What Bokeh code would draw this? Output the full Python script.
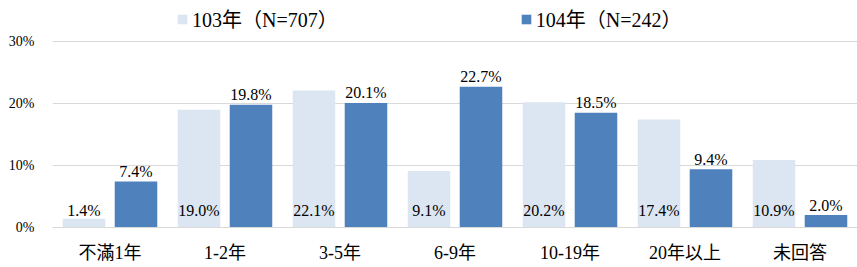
from bokeh.plotting import figure
from bokeh.models import (ColumnDataSource, FactorRange, FixedTicker, NumeralTickFormatter,
                          Legend, LegendItem)
from bokeh.transform import dodge
from bokeh.core.properties import value
from bokeh.embed import file_html
from bokeh.resources import INLINE

categories = ["不滿1年", "1-2年", "3-5年", "6-9年", "10-19年", "20年以上", "未回答"]
series_103 = [1.4, 19.0, 22.1, 9.1, 20.2, 17.4, 10.9]
series_104 = [7.4, 19.8, 20.1, 22.7, 18.5, 9.4, 2.0]
legend_103 = "103年（N=707）"
legend_104 = "104年（N=242）"
y_ticks = [0, 10, 20, 30]

FONT = "Liberation Serif"
CJK_FONT = "Liberation Serif, Noto Sans CJK TC"
LIGHT = "#DCE6F2"
DARK = "#4F81BD"
GRID = "#D9D9D9"

src = ColumnDataSource(dict(
    cat=categories,
    v103=[v / 100 for v in series_103],
    v104=[v / 100 for v in series_104],
    zero=[0] * len(categories),
    l103=[f"{v:.1f}%" for v in series_103],
    l104=[f"{v:.1f}%" for v in series_104],
))

# top of frame leaves room for the legend: 30% gridline sits 41px below the top
PX_PER_UNIT = 620.0
FRAME_H = 227
p = figure(x_range=FactorRange(*categories), y_range=(0, FRAME_H / PX_PER_UNIT),
           width=857, height=267, output_backend="svg", toolbar_location=None,
           min_border_left=52, min_border_right=0, min_border_bottom=40, min_border_top=0)
p.x_range.range_padding = 0
p.outline_line_color = None
p.background_fill_color = "white"

r103 = p.vbar(x=dodge("cat", -0.226, range=p.x_range), top="v103", width=0.37,
              source=src, fill_color=LIGHT, line_color=None)
r104 = p.vbar(x=dodge("cat", 0.226, range=p.x_range), top="v104", width=0.37,
              source=src, fill_color=DARK, line_color=None)

p.text(x=dodge("cat", -0.226, range=p.x_range), y="zero", text="l103", source=src,
       text_align="center", text_baseline="middle", y_offset=-17,
       text_font=value(FONT), text_font_size="16px", text_color="#000000")
p.text(x=dodge("cat", 0.226, range=p.x_range), y="v104", text="l104", source=src,
       text_align="center", text_baseline="middle", y_offset=-10,
       text_font=value(FONT), text_font_size="16px", text_color="#000000")

p.yaxis.ticker = FixedTicker(ticks=[t / 100 for t in y_ticks])
p.yaxis.formatter = NumeralTickFormatter(format="0%")
p.yaxis.axis_line_color = None
p.yaxis.major_tick_line_color = None
p.yaxis.minor_tick_line_color = None
p.yaxis.major_label_text_font = FONT
p.yaxis.major_label_text_font_size = "14px"
p.yaxis.major_label_text_color = "#000000"
p.yaxis.major_label_standoff = 12

p.xaxis.axis_line_color = GRID
p.xaxis.major_tick_line_color = None
p.xaxis.minor_tick_line_color = None
p.xaxis.major_label_text_font = CJK_FONT
p.xaxis.major_label_text_font_size = "18px"
p.xaxis.major_label_text_color = "#000000"
p.xaxis.major_label_standoff = 9

p.xgrid.grid_line_color = None
p.ygrid.grid_line_color = GRID
p.ygrid.grid_line_width = 1

legend = Legend(items=[LegendItem(label=legend_103, renderers=[r103]),
                       LegendItem(label=legend_104, renderers=[r104])],
                orientation="horizontal", location=(124, 194),
                glyph_width=12, glyph_height=12, spacing=182, label_standoff=4,
                label_text_font=CJK_FONT, label_text_font_size="20px",
                label_text_color="#000000", border_line_color=None,
                background_fill_alpha=0, padding=2, margin=0)
p.add_layout(legend, "center")

open("out.html", "w").write(file_html(p, INLINE))
